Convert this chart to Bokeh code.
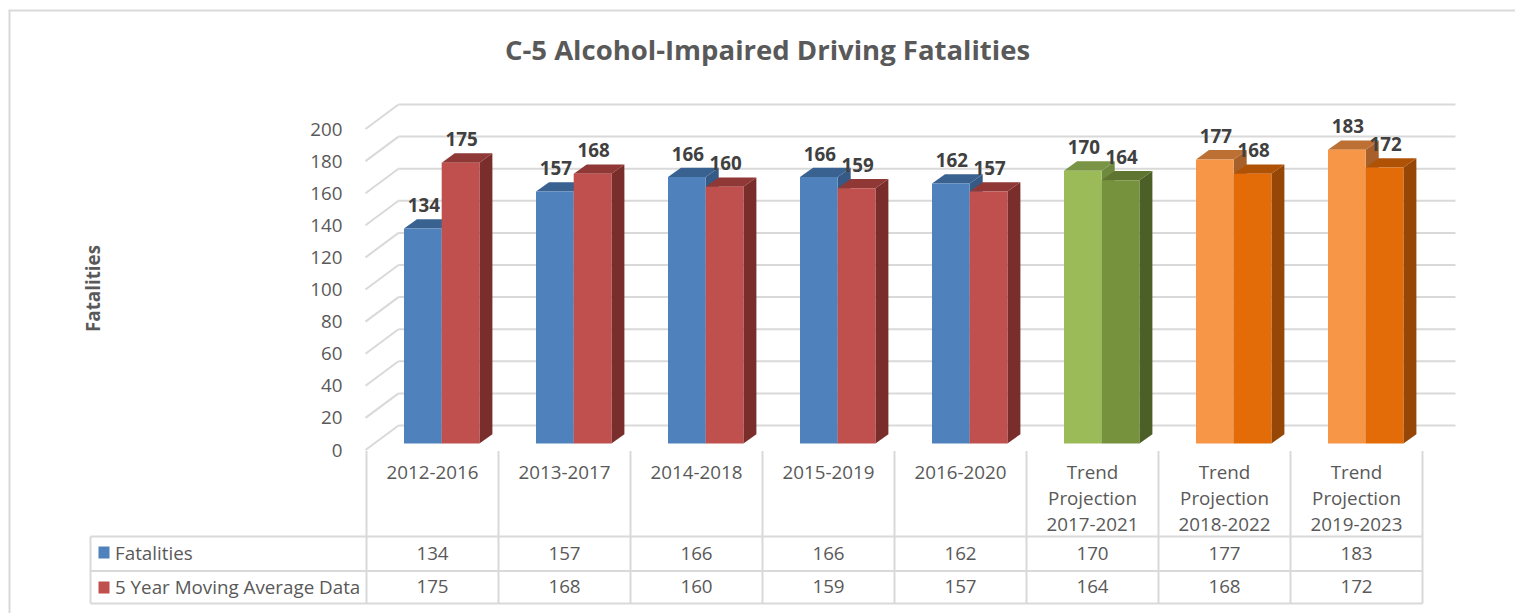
from bokeh.plotting import figure
from bokeh.models import Range1d, LinearAxis, FixedTicker
from bokeh.core.properties import value
from bokeh.embed import file_html
from bokeh.resources import INLINE

# ---------- data ----------
categories = ["2012-2016", "2013-2017", "2014-2018", "2015-2019", "2016-2020",
              "Trend\nProjection\n2017-2021", "Trend\nProjection\n2018-2022", "Trend\nProjection\n2019-2023"]
fatalities = [134, 157, 166, 166, 162, 170, 177, 183]
moving_avg = [175, 168, 160, 159, 157, 164, 168, 172]
series_names = ["Fatalities", "5 Year Moving Average Data"]
title_text = "C-5 Alcohol-Impaired Driving Fatalities"
y_title = "Fatalities"
y_ticks = list(range(0, 201, 20))

fat_front = ["#4f81bd"] * 5 + ["#9bbb59"] + ["#f79646"] * 2
fat_top = ["#3a6291"] * 5 + ["#7a9445"] + ["#bc7033"] * 2
fat_side = ["#355a86"] * 5 + ["#6f8a3e"] + ["#a8602a"] * 2
avg_front = ["#c0504d"] * 5 + ["#76923c"] + ["#e36c09"] * 2
avg_top = ["#8f3836"] * 5 + ["#5d7530"] + ["#b05206"] * 2
avg_side = ["#7a2e2c"] * 5 + ["#4b5f27"] + ["#964705"] * 2

# ---------- layout (page pixels) ----------
W, H = 1515, 613
ORG = 0
PX_CAT, PX_VAL = 132.0, 1.605
CAT0, BASE, AXIS0 = 366.0, 443.0, 449.5
X = lambda px: (px - CAT0) / PX_CAT
Y = lambda py: (BASE - py) / PX_VAL
n = len(categories)
GRAY, TXT, LBL = "#d9d9d9", "#595959", "#404040"
FONT = value("Open Sans")
FS = "18.8px"

p = figure(width=W, height=H, output_backend="svg", toolbar_location=None,
           x_range=Range1d(X(ORG), X(ORG + W)), y_range=Range1d(Y(ORG + H), Y(ORG)),
           min_border=0, min_border_left=0, min_border_right=0, min_border_top=0, min_border_bottom=0,
           outline_line_color=None, background_fill_color="white", border_fill_color="white")
p.axis.visible = False
p.grid.visible = False
p.extra_y_ranges["axis"] = Range1d((AXIS0 - (ORG + H)) / PX_VAL, (AXIS0 - ORG) / PX_VAL)

# outer frame
p.segment([X(8), X(9)], [Y(10), Y(10)], [X(ORG + W), X(9)], [Y(10), Y(ORG + H)], line_color=GRAY, line_width=2)

# walls of the 3-D box
wall_dx, wall_dy = 33 / PX_CAT, 24.5 / PX_VAL
left = X(365)
right = X(1455)
p.segment([left] * len(y_ticks), y_ticks, [left + wall_dx] * len(y_ticks), [v + wall_dy for v in y_ticks],
          y_range_name="axis", line_color=GRAY, line_width=2)
p.segment([left + wall_dx] * len(y_ticks), [v + wall_dy for v in y_ticks], [right] * len(y_ticks),
          [v + wall_dy for v in y_ticks], y_range_name="axis", line_color=GRAY, line_width=2)

# bars
bar_off, bar_w = 37.5 / PX_CAT, 37.7 / PX_CAT
dx, dy = 13 / PX_CAT, 9.3 / PX_VAL

def bars(vals, start, front, top, side):
    x0 = [i + start for i in range(n)]
    x1 = [a + bar_w for a in x0]
    p.patches([[b, b + dx, b + dx, b] for b in x1],
              [[0, dy, v + dy, v] for v in vals], fill_color=side, line_color=None)
    p.patches([[a, b, b + dx, a + dx] for a, b in zip(x0, x1)],
              [[v, v, v + dy, v + dy] for v in vals], fill_color=top, line_color=None)
    p.quad(left=x0, right=x1, bottom=0, top=vals, fill_color=front, line_color=None)
    return [(a + b) / 2 for a, b in zip(x0, x1)]

c_a = bars(fatalities, bar_off, fat_front, fat_top, fat_side)
c_b = bars(moving_avg, bar_off + bar_w, avg_front, avg_top, avg_side)

lab_y = 23.5 / PX_VAL
for cx, vals in ((c_a, fatalities), (c_b, moving_avg)):
    p.text([c + 1 / PX_CAT for c in cx], [v + lab_y for v in vals], text=[str(v) for v in vals],
           text_font=FONT, text_font_style="bold", text_font_size=FS, text_color=LBL,
           text_align="center", text_baseline="middle")

# data table lines
t_left, t_right = X(90), X(1422)
rows = [Y(536), Y(570.5), Y(603)]
p.segment([t_left] * 3, rows, [t_right] * 3, rows, line_color=GRAY, line_width=2)
p.segment([t_left], [rows[0]], [t_left], [rows[2]], line_color=GRAY, line_width=2)
col_x = list(range(n + 1))
p.segment(col_x, [Y(450.5)] * (n + 1), col_x, [rows[2]] * (n + 1), line_color=GRAY, line_width=2)

# table values
centers = [i + 0.5 for i in range(n)]
for vals, py in ((fatalities, 553), (moving_avg, 586)):
    p.text(centers, [Y(py)] * n, text=[str(v) for v in vals], text_font=FONT, text_font_size=FS,
           text_color=TXT, text_align="center", text_baseline="middle")

# legend keys in the table
p.quad(left=[X(98)] * 2, right=[X(109)] * 2, top=[Y(546), Y(581)], bottom=[Y(558), Y(593)],
       fill_color=[fat_front[0], avg_front[0]], line_color=None)
p.text([X(114.5)] * 2, [Y(552.5), Y(586)], text=series_names, text_font=FONT, text_font_size=FS,
       text_color=TXT, text_align="left", text_baseline="middle")

# value axis
yax = LinearAxis(y_range_name="axis", ticker=FixedTicker(ticks=y_ticks), fixed_location=X(352),
                 major_tick_line_color=None, minor_tick_line_color=None, axis_line_color=None,
                 major_label_text_font="Open Sans", major_label_text_font_size=FS,
                 major_label_text_color=TXT, major_label_standoff=4)
p.add_layout(yax, "left")

# category labels, one text per line
for row in range(3):
    cx, txt = [], []
    for c, s in zip(centers, categories):
        parts = s.split("\n")
        if row < len(parts):
            cx.append(c)
            txt.append(parts[row])
    p.text(cx, [Y(471.5 + 26 * row)] * len(cx), text=txt, text_font=FONT, text_font_size=FS, text_color=TXT,
           text_align="center", text_baseline="middle")

# titles
p.text([X(767)], [Y(48.5)], text=[title_text], text_font=FONT, text_font_style="bold", text_font_size="27.5px",
       text_color=TXT, text_align="center", text_baseline="middle")
p.text([X(92.5)], [Y(288)], text=[y_title], text_font=FONT, text_font_style="bold", text_font_size=FS,
       text_color=TXT, text_align="center", text_baseline="middle", angle=1.5708)

open("out.html", "w").write(file_html(p, INLINE))
